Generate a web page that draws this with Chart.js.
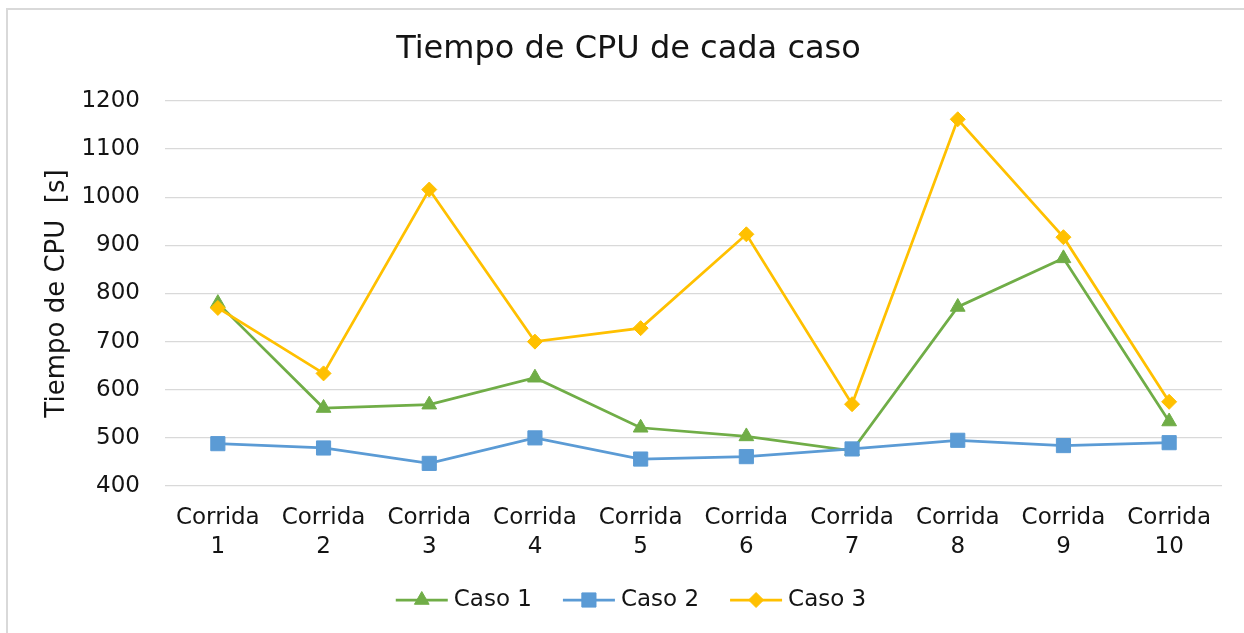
<!DOCTYPE html>
<html>
<head>
<meta charset="utf-8">
<script src="https://cdn.jsdelivr.net/npm/chart.js@4"></script>
<style>
  html, body { margin: 0; padding: 0; background: #ffffff; overflow: hidden; }
  #wrap { position: relative; width: 1244px; height: 633px; overflow: hidden; }
  #frame { position: absolute; left: 6px; top: 8px; width: 1400px; height: 800px;
           border-left: 2px solid #d9d9d9; border-top: 2px solid #d9d9d9; pointer-events: none; }
  canvas { display: block; }
</style>
</head>
<body>
<div id="wrap">
  <canvas id="c" width="1244" height="633"></canvas>
  <div id="frame"></div>
</div>
<script>
const categories = [
  ["Corrida", "1"], ["Corrida", "2"], ["Corrida", "3"], ["Corrida", "4"], ["Corrida", "5"],
  ["Corrida", "6"], ["Corrida", "7"], ["Corrida", "8"], ["Corrida", "9"], ["Corrida", "10"]
];
const caso1 = [780, 562, 569, 625, 521, 503, 473, 772, 873, 534];
const caso2 = [488, 479, 447, 500, 456, 461, 477, 495, 484, 490];
const caso3 = [770, 634, 1016, 700, 728, 923, 570, 1162, 917, 575];
const seriesNames = ["Caso 1", "Caso 2", "Caso 3"];
const yMin = 400, yMax = 1200, yStep = 100;
const chartTitle = "Tiempo de CPU de cada caso";
const yTitle = "Tiempo de CPU  [s]";

const FONT = "'DejaVu Sans', Verdana, sans-serif";
const TEXT = "#141414";
Chart.defaults.font.family = FONT;
Chart.defaults.color = TEXT;

function drawMarker(ctx, style, r, x, y) {
  if (Chart.helpers && Chart.helpers.drawPoint) {
    Chart.helpers.drawPoint(ctx, {pointStyle: style, radius: r, borderWidth: 1, rotation: 0}, x, y);
    return;
  }
  ctx.beginPath();
  if (style === 'triangle') {
    for (let i = 0; i < 3; i++) {
      const a = i * 2 * Math.PI / 3;
      const px = x + Math.sin(a) * r, py = y - Math.cos(a) * r;
      if (i === 0) ctx.moveTo(px, py); else ctx.lineTo(px, py);
    }
    ctx.closePath();
  } else if (style === 'rect') {
    const s = Math.SQRT1_2 * r;
    ctx.rect(x - s, y - s, 2 * s, 2 * s);
  } else {
    ctx.moveTo(x, y - r); ctx.lineTo(x + r, y); ctx.lineTo(x, y + r); ctx.lineTo(x - r, y); ctx.closePath();
  }
  ctx.fill(); ctx.stroke();
}

const lineLegend = {
  id: 'lineLegend',
  afterDraw(chart, args, opts) {
    const ctx = chart.ctx;
    ctx.save();
    ctx.font = opts.fontSize + "px " + FONT;
    ctx.textBaseline = 'middle';
    ctx.textAlign = 'left';
    const items = chart.data.datasets.map(ds => ({
      label: ds.label, color: ds.borderColor, style: ds.pointStyle, r: ds.pointRadius,
      w: ctx.measureText(ds.label).width
    }));
    const total = items.reduce((s, it) => s + opts.lineLen + opts.gap + it.w, 0) + opts.itemGap * (items.length - 1);
    let x = opts.cx - total / 2;
    const y = opts.cy;
    items.forEach(it => {
      ctx.strokeStyle = it.color;
      ctx.fillStyle = it.color;
      ctx.lineWidth = 2.75;
      ctx.beginPath();
      ctx.moveTo(x, y); ctx.lineTo(x + opts.lineLen, y);
      ctx.stroke();
      ctx.lineWidth = 1;
      drawMarker(ctx, it.style, it.r, x + opts.lineLen / 2, y);
      ctx.fillStyle = TEXT;
      ctx.fillText(it.label, x + opts.lineLen + opts.gap, y);
      x += opts.lineLen + opts.gap + it.w + opts.itemGap;
    });
    ctx.restore();
  }
};

function ds(label, data, color, style, radius, order) {
  return {
    label, data, order,
    borderColor: color, backgroundColor: color,
    pointBackgroundColor: color, pointBorderColor: color,
    pointBorderWidth: 1, borderWidth: 2.75,
    pointStyle: style, pointRadius: radius, pointHoverRadius: radius,
    tension: 0, fill: false
  };
}

new Chart(document.getElementById('c'), {
  type: 'line',
  data: {
    labels: categories,
    datasets: [
      ds(seriesNames[0], caso1, '#70AD47', 'triangle', 8.5, 3),
      ds(seriesNames[1], caso2, '#5B9BD5', 'rect', 10, 2),
      ds(seriesNames[2], caso3, '#FFC000', 'rectRot', 7.5, 1)
    ]
  },
  plugins: [lineLegend],
  options: {
    responsive: false,
    animation: false,
    devicePixelRatio: 1,
    layout: { padding: { left: 35, right: 22, top: 0, bottom: 0 } },
    plugins: {
      legend: { display: false },
      tooltip: { enabled: false },
      title: {
        display: true, text: chartTitle, color: TEXT,
        font: { size: 32, weight: 'normal', lineHeight: 1.2 },
        padding: { top: 30.7, bottom: 31.9 }
      },
      lineLegend: { cx: 631, cy: 600, fontSize: 23, lineLen: 52, gap: 6, itemGap: 31 }
    },
    scales: {
      x: {
        offset: true,
        grid: { display: false, drawTicks: false },
        border: { display: false },
        ticks: { color: TEXT, font: { size: 23, lineHeight: 1.26 }, padding: 17.5, maxRotation: 0, autoSkip: false },
        afterFit(scale) { scale.height = 147; }
      },
      y: {
        min: yMin, max: yMax,
        grid: { color: '#d9d9d9', lineWidth: 1.3, drawTicks: false },
        border: { display: false },
        ticks: { stepSize: yStep, color: TEXT, font: { size: 23 }, padding: 25,
                 callback: (v) => String(v) },
        title: {
          display: true, text: yTitle, color: TEXT,
          font: { size: 26, lineHeight: 1.2 }, padding: { top: 6.4, bottom: 0 }
        },
        afterFit(scale) { scale.width = 130; }
      }
    }
  }
});
</script>
</body>
</html>
